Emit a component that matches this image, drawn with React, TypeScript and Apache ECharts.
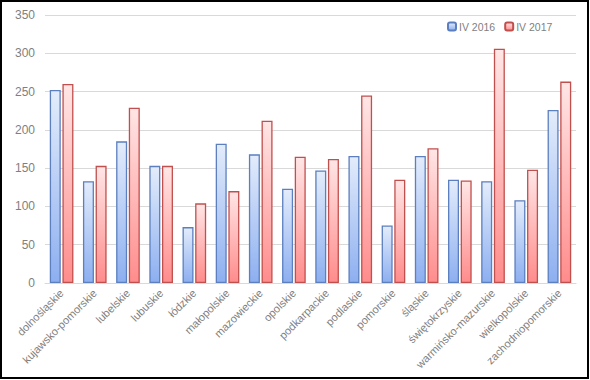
import React, { useEffect, useRef } from "react";
import * as echarts from "echarts";

const categories = [
  "dolnośląskie",
  "kujawsko-pomorskie",
  "lubelskie",
  "lubuskie",
  "łódzkie",
  "małopolskie",
  "mazowieckie",
  "opolskie",
  "podkarpackie",
  "podlaskie",
  "pomorskie",
  "śląskie",
  "świętokrzyskie",
  "warmińsko-mazurskie",
  "wielkopolskie",
  "zachodniopomorskie",
];
const series2016 = [252, 133, 185, 153, 73, 182, 168, 123, 147, 166, 75, 166, 135, 133, 108, 226];
const series2017 = [260, 153, 229, 153, 104, 120, 212, 165, 162, 245, 135, 176, 134, 306, 148, 263];
const yTicks = { min: 0, max: 350, interval: 50 };

const FONT = "'Liberation Sans', 'Open Sans', sans-serif";
const TEXT = "#7f7f7f";

export default function App() {
  const ref = useRef<HTMLDivElement>(null);
  useEffect(() => {
    if (!ref.current) return;
    const chart = echarts.init(ref.current, undefined, { renderer: "svg" });
    const blueGrad = new echarts.graphic.LinearGradient(0, 0, 0, 1, [
      { offset: 0, color: "#e3ecfb" },
      { offset: 1, color: "#8daff0" },
    ]);
    const redGrad = new echarts.graphic.LinearGradient(0, 0, 0, 1, [
      { offset: 0, color: "#ffe6e6" },
      { offset: 1, color: "#ff8c8c" },
    ]);
    chart.setOption({
      animation: false,
      textStyle: { fontFamily: FONT },
      grid: { left: 43, right: 11, top: 13, bottom: 94 },
      legend: {
        left: 440,
        top: 14,
        itemWidth: 8,
        itemHeight: 8,
        itemGap: 9,
        textStyle: { color: TEXT, fontSize: 10.5, fontFamily: FONT, padding: [0, 0, 0, -2] },
        data: ["IV 2016", "IV 2017"],
      },
      xAxis: {
        type: "category",
        data: categories,
        axisLine: { lineStyle: { color: "#d9d9d9" } },
        axisTick: { show: false },
        axisLabel: {
          interval: 0,
          rotate: 45,
          color: TEXT,
          fontSize: 11,
          fontFamily: FONT,
          margin: 8,
        },
      },
      yAxis: {
        type: "value",
        min: yTicks.min,
        max: yTicks.max,
        interval: yTicks.interval,
        axisLine: { show: false },
        axisTick: { show: false },
        axisLabel: { color: TEXT, fontSize: 12, fontFamily: FONT, margin: 10 },
        splitLine: { lineStyle: { color: "#d9d9d9" } },
      },
      series: [
        {
          name: "IV 2016",
          type: "bar",
          data: series2016,
          barWidth: 11,
          barGap: "15%",
          itemStyle: { color: blueGrad, borderColor: "#5b7fbf", borderWidth: 1.3 },
        },
        {
          name: "IV 2017",
          type: "bar",
          data: series2017,
          barWidth: 11,
          itemStyle: { color: redGrad, borderColor: "#c0504d", borderWidth: 1.3 },
        },
      ],
    });
    return () => chart.dispose();
  }, []);
  return (
    <div
      style={{
        position: "absolute",
        left: 0,
        top: 0,
        width: 589,
        height: 379,
        boxSizing: "border-box",
        border: "2px solid #000",
        background: "#fff",
      }}
    >
      <div ref={ref} style={{ width: 585, height: 375 }} />
    </div>
  );
}
